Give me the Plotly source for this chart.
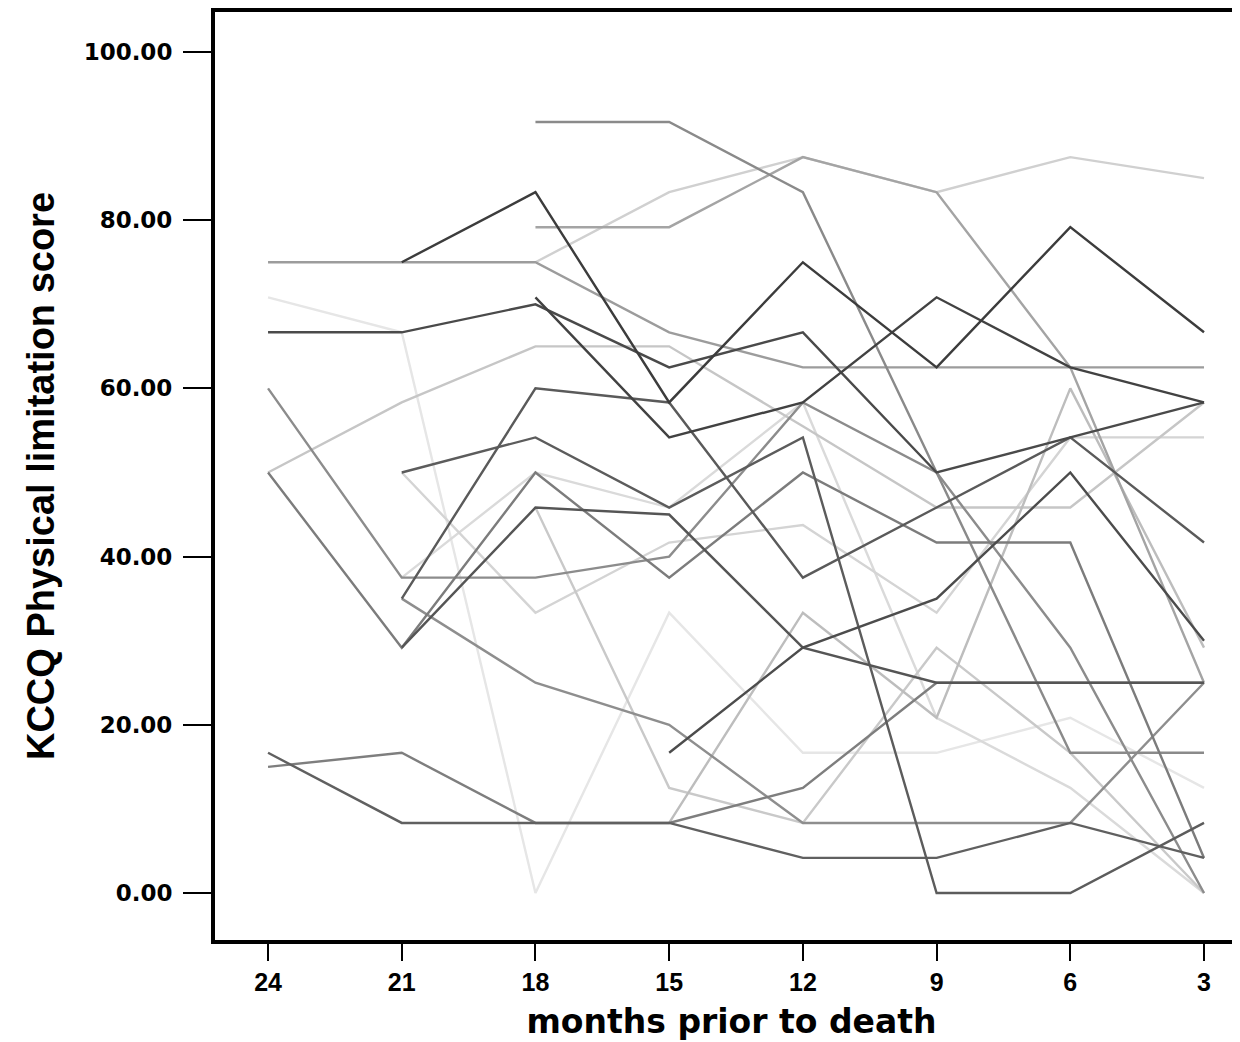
import plotly.graph_objects as go

months = [24, 21, 18, 15, 12, 9, 6, 3]
tick_labels = ["24", "21", "18", "15", "12", "9", "6", "3"]
y_ticks = [0, 20, 40, 60, 80, 100]
y_tick_labels = ["0.00", "20.00", "40.00", "60.00", "80.00", "100.00"]

p01 = [None, 75, 83.33, 58.33, 75, 62.5, 79.17, 66.67]
p02 = [75, 75, 75, 66.67, 62.5, 62.5, 62.5, 62.5]
p03 = [None, None, 75, 83.33, 87.5, 83.33, 87.5, 85.0]
p04 = [None, None, 91.67, 91.67, 83.33, 50, 16.67, 16.67]
p05 = [None, None, 79.17, 79.17, 87.5, 83.33, 62.5, 25]
p06 = [70.83, 66.67, 0, 33.33, 16.67, 16.67, 20.83, 12.5]
p07 = [66.67, 66.67, 70.0, 62.5, 66.67, 50, 54.17, 58.33]
p08 = [None, None, 70.83, 54.17, 58.33, 70.83, 62.5, 58.33]
p09 = [50, 58.33, 65, 65, 55.5, 45.83, 45.83, 58.33]
p10 = [60, 37.5, 37.5, 40, 58.33, 50, 29.17, 0]
p11 = [50, 29.17, 50, 37.5, 50, 41.67, 41.67, 4.17]
p12 = [None, 50, 54.17, 45.83, 54.17, 0, 0, 8.33]
p13 = [None, 29.17, 45.83, 45, 29.17, 25, 25, 25]
p14 = [None, 35, 60, 58.33, 37.5, 45.83, 54.17, 41.67]
p15 = [None, None, None, 16.67, 29.17, 35, 50, 30]
p16 = [None, 35, 25, 20, 8.33, 8.33, 8.33, 25]
p17 = [16.67, 8.33, 8.33, 8.33, 4.17, 4.17, 8.33, 4.17]
p18 = [15, 16.67, 8.33, 8.33, 12.5, 25, 25, 25]
p19 = [None, None, None, 8.33, 33.33, 20.83, 60, 29.17]
p20 = [None, None, 45.83, 12.5, 8.33, 29.17, 16.67, 0]
p21 = [None, 50, 33.33, 41.67, 43.75, 33.33, 54.17, 54.17]
p22 = [None, 37.5, 50, 45.83, 58.33, 20.83, 12.5, 0]

series = [p01, p02, p03, p04, p05, p06, p07, p08, p09, p10, p11,
          p12, p13, p14, p15, p16, p17, p18, p19, p20, p21, p22]
colors = ["#3c3c3c", "#9c9c9c", "#d0d0d0", "#8a8a8a", "#a4a4a4", "#e6e6e6",
          "#4a4a4a", "#424242", "#c6c6c6", "#8c8c8c", "#7c7c7c", "#5c5c5c",
          "#555555", "#5a5a5a", "#4c4c4c", "#8e8e8e", "#606060", "#7e7e7e",
          "#bdbdbd", "#c9c9c9", "#d4d4d4", "#dadada"]

# draw lighter lines first so darker ones sit on top
order = sorted(range(len(series)), key=lambda i: -int(colors[i][1:3], 16))

fig = go.Figure()
for i in order:
    fig.add_trace(go.Scatter(
        x=months, y=series[i], mode="lines",
        line=dict(color=colors[i], width=2.4),
        connectgaps=False, showlegend=False, hoverinfo="skip"))

fig.update_layout(
    width=1240, height=1042,
    margin=dict(l=207, r=0, t=4, b=110, autoexpand=False),
    paper_bgcolor="white", plot_bgcolor="white",
    showlegend=False,
)
fig.update_xaxes(
    range=[25.19, 2.013], tickmode="array", tickvals=months, ticktext=tick_labels,
    showgrid=False, zeroline=False,
    showline=True, linecolor="black", linewidth=4, mirror=True,
    ticks="outside", ticklen=17, tickwidth=2, tickcolor="black",
    tickfont=dict(family="Liberation Sans, Arial, sans-serif", size=25, color="black",
                  weight="bold"),
    title=dict(text="<b>months prior to death</b>",
               font=dict(family="DejaVu Sans, sans-serif", size=33, color="black"),
               standoff=16),
)
fig.update_yaxes(
    range=[-5.59, 104.756], tickmode="array", tickvals=y_ticks, ticktext=y_tick_labels,
    showgrid=False, zeroline=False,
    showline=True, linecolor="black", linewidth=4, mirror=False,
    ticks="outside", ticklen=28, tickwidth=2, tickcolor="black",
    ticklabelstandoff=6,
    tickfont=dict(family="DejaVu Sans, sans-serif", size=23, color="black",
                  weight="bold"),
    title=dict(text="<b>KCCQ Physical limitation score</b>",
               font=dict(family="Liberation Sans, Arial, sans-serif",
                         size=38, color="black"),
               standoff=18),
)

fig.write_html("out.html")
